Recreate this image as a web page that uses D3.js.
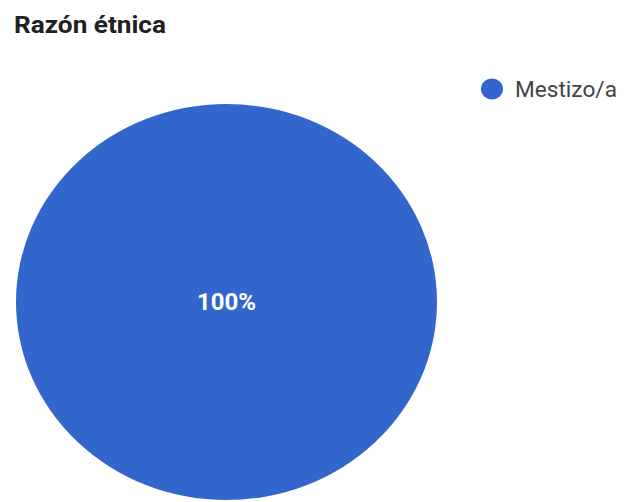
<!DOCTYPE html>
<html><head><meta charset="utf-8">
<script src="https://cdn.jsdelivr.net/npm/d3@7"></script>
<style>body{margin:0;background:#fff;}svg{display:block;}</style>
</head><body>
<svg id="c" width="626" height="502"></svg>
<script>
const title = "Razón étnica";
const categories = ["Mestizo/a"];
const values = [100];
const colors = ["#3366cc"];

const svg = d3.select("#c");
svg.append("text").attr("x", 14).attr("y", 33)
  .attr("font-family", "Roboto, Arial, sans-serif").attr("font-weight", "bold")
  .attr("font-size", 23).attr("fill", "#212121")
  .attr("textLength", 152).attr("lengthAdjust", "spacingAndGlyphs")
  .text(title);

const cx = 226.5, cy = 302, rx = 210.5, ry = 198;
const pie = d3.pie().sort(null).value(d => d)(values);
const arc = d3.arc().innerRadius(0).outerRadius(1);
const total = d3.sum(values);
const g = svg.append("g").attr("transform", `translate(${cx},${cy})`);
g.append("g").attr("transform", `scale(${rx},${ry})`)
  .selectAll("path").data(pie).join("path")
  .attr("d", arc).attr("fill", (d, i) => colors[i]);
g.selectAll("text").data(pie).join("text")
  .attr("x", d => {
    if (d.endAngle - d.startAngle >= 2 * Math.PI - 1e-6) return 0;
    return arc.centroid(d)[0] * rx * 1.2;
  })
  .attr("y", d => {
    if (d.endAngle - d.startAngle >= 2 * Math.PI - 1e-6) return 0;
    return arc.centroid(d)[1] * ry * 1.2;
  })
  .attr("dy", "0.36em").attr("text-anchor", "middle")
  .attr("font-family", "Roboto, Arial, sans-serif").attr("font-weight", "bold")
  .attr("font-size", 23).attr("fill", "#ffffff")
  .attr("textLength", 59).attr("lengthAdjust", "spacingAndGlyphs")
  .text(d => Math.round(d.data / total * 100) + "%");

const leg = svg.append("g").selectAll("g").data(categories).join("g")
  .attr("transform", (d, i) => `translate(492,${89 + i * 30})`);
leg.append("ellipse").attr("rx", 11).attr("ry", 10.5).attr("fill", (d, i) => colors[i]);
leg.append("text").attr("x", 23).attr("y", 0).attr("dy", "0.36em")
  .attr("font-family", "Roboto, Arial, sans-serif").attr("font-size", 22)
  .attr("fill", "#444").attr("textLength", 102).attr("lengthAdjust", "spacingAndGlyphs")
  .text(d => d);
</script>
</body></html>
